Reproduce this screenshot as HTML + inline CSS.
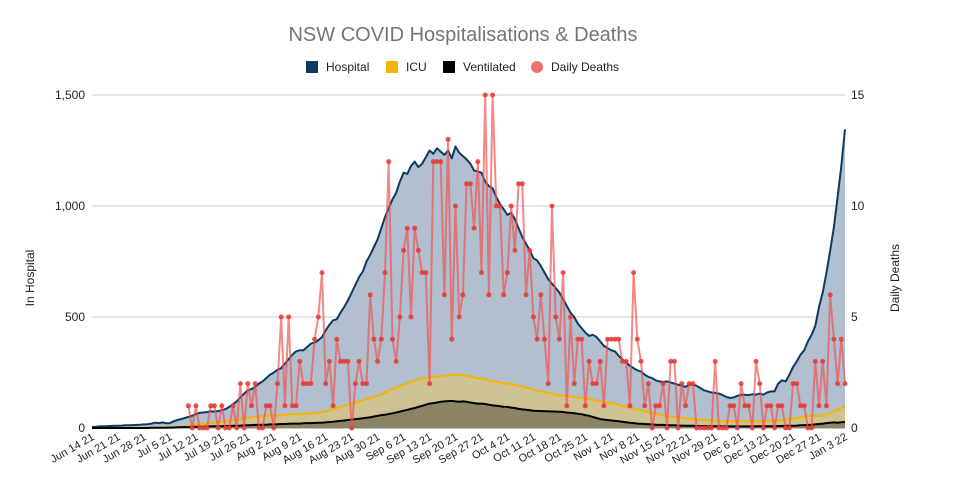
<!DOCTYPE html>
<html><head><meta charset="utf-8"><style>
body{margin:0;background:#fff;font-family:"Liberation Sans",sans-serif}
svg text{font-family:"Liberation Sans",sans-serif}
</style></head><body>
<svg id="c" width="973" height="480" xmlns="http://www.w3.org/2000/svg">
<text x="463" y="41" text-anchor="middle" font-size="20" fill="#757575">NSW COVID Hospitalisations &amp; Deaths</text>
<g font-size="12" fill="#222">
<g><rect x="306" y="61" width="12" height="12" fill="#0b3a62"/><text x="326" y="71">Hospital</text></g>
<g><rect x="386" y="61" width="12" height="12" fill="#f4b400"/><text x="406" y="71">ICU</text></g>
<g><rect x="443" y="61" width="12" height="12" fill="#000"/><text x="463" y="71">Ventilated</text></g>
<g><circle cx="537" cy="67" r="6" fill="#f07070"/><text x="551" y="71">Daily Deaths</text></g>
</g>
<text transform="translate(34,278) rotate(-90)" text-anchor="middle" font-size="12" fill="#222">In Hospital</text>
<text transform="translate(899,278) rotate(-90)" text-anchor="middle" font-size="12" fill="#222">Daily Deaths</text>
<g id="grid"></g><g id="areas"></g><g id="deaths"></g><g id="axes"></g>
</svg>
<script>
const hospital=[5,6,7,8,8,9,10,10,11,12,12,13,14,15,16,17,20,24,22,25,21,22,30,36,40,45,50,55,63,68,70,72,75,74,76,80,85,95,107,120,138,155,170,175,185,200,210,225,240,250,262,270,290,310,330,345,350,350,365,380,385,395,410,440,465,485,490,520,545,575,610,645,680,705,750,780,815,850,900,950,990,1030,1060,1110,1150,1145,1180,1200,1175,1190,1220,1250,1235,1260,1245,1230,1250,1215,1268,1240,1225,1210,1190,1160,1155,1150,1110,1090,1080,1040,1010,985,960,970,940,900,860,830,800,765,755,730,700,670,650,630,610,580,550,520,500,470,450,430,415,420,410,390,370,360,350,345,325,310,295,280,270,260,255,240,230,225,215,210,207,210,205,200,195,190,185,195,195,190,180,170,165,160,158,155,148,140,135,138,145,150,150,148,152,150,155,150,160,165,165,200,215,210,240,275,300,330,350,390,420,460,545,610,700,800,905,1040,1180,1345];
const icu=[0,0,0,0,0,0,0,0,0,0,0,0,0,0,1,1,1,2,2,2,3,3,4,5,6,8,10,12,14,16,18,20,22,25,27,28,30,32,35,38,40,42,45,48,50,52,54,55,55,55,56,58,60,62,62,63,63,64,65,66,68,70,72,75,80,85,90,95,100,105,110,115,120,125,130,135,140,145,150,160,168,175,182,190,196,202,208,214,218,222,226,228,230,232,234,236,238,240,242,240,238,235,232,228,225,222,218,214,210,208,205,202,200,198,194,190,186,182,178,174,170,166,162,158,154,150,148,146,144,142,140,138,136,133,130,127,124,121,118,115,112,108,104,100,96,92,88,84,80,76,72,68,64,60,57,54,52,50,48,46,44,42,40,38,37,36,35,34,33,32,31,30,30,30,30,30,30,30,30,30,31,31,32,32,33,34,36,38,40,42,45,48,50,55,55,55,56,58,62,68,75,82,90,100];
const ventilated=[0,0,0,0,0,0,0,0,0,0,0,0,0,0,0,0,1,1,1,1,1,2,2,3,3,4,4,5,5,6,6,7,7,8,8,8,9,9,10,10,11,12,12,13,14,14,15,15,16,16,17,18,18,19,20,20,20,21,22,22,23,24,24,25,27,28,30,32,34,36,38,40,42,44,46,48,52,55,58,60,63,66,70,74,78,82,86,90,95,100,105,110,112,115,118,120,121,122,120,118,120,118,115,112,110,110,108,105,102,100,98,96,95,92,90,86,84,82,80,78,77,76,76,75,75,74,73,72,70,68,66,64,62,58,55,50,45,40,38,36,34,32,30,28,26,24,22,20,19,18,17,16,15,14,14,13,12,12,11,11,10,10,10,9,9,9,8,8,8,8,8,7,7,7,7,7,7,7,7,8,8,8,8,8,8,9,9,10,10,10,11,12,13,14,15,16,18,20,22,24,25,24,26,27];
const deathsEarly=[1,0,1,0,0,0,1,1,0,1,0,0,1,0,2,0,2,1,2,0,0,1,1,0,2,5,1,5,1,1,3,2,2,2,4,5,7,2,3,1,4,3,3,3,0,2,3,2,2,6,4,3,4,7,12];
const deathsMid=[4,3,5,8,9,5,9,8,7,7,2,12,12,12,6,13,4,10,5,6,11,11,9,12,7,15,6,15,10,10,6,7,10,8,11,11,6,8,5,4,6,4,2,10,5,4,7,1,5,2,4,4,1,3,2,2,3,1,4,4,4,4];
const deathsLate=[3,3,1,7,4,3,1,2,0,1,1,2,0,3,3,0,2,1,2,2,0,0,0,0,0,3,0,0,0,1,1,0,2,1,1,0,3,2,0,1,1,0,1,1,0,0,2,2,1,1,0,0,3,1,3,1,6,4,2,4,2];
const deathsStart=26;
const xLabels=["Jun 14 21","Jun 21 21","Jun 28 21","Jul 5 21","Jul 12 21","Jul 19 21","Jul 26 21","Aug 2 21","Aug 9 21","Aug 16 21","Aug 23 21","Aug 30 21","Sep 6 21","Sep 13 21","Sep 20 21","Sep 27 21","Oct 4 21","Oct 11 21","Oct 18 21","Oct 25 21","Nov 1 21","Nov 8 21","Nov 15 21","Nov 22 21","Nov 29 21","Dec 6 21","Dec 13 21","Dec 20 21","Dec 27 21","Jan 3 22"];
const yTicksLeft=[0,500,1000,1500];
const yTicksRight=[0,5,10,15];
const deaths=[...deathsEarly,...deathsMid,...deathsLate];
const NS="http://www.w3.org/2000/svg";
const X0=92,X1=845,Y0=428,Y1=95,N=hospital.length;
const xs=i=>X0+(X1-X0)*i/(N-1);
const yL=v=>Y0-(Y0-Y1)*v/1500;
const yR=v=>Y0-(Y0-Y1)*v/15;
function mk(tag,parent,attrs){const e=document.createElementNS(NS,tag);for(const k in attrs)e.setAttribute(k,attrs[k]);document.getElementById(parent).appendChild(e);return e;}
yTicksLeft.forEach((t,k)=>{
  const g=mk('line','grid',{x1:X0,x2:X1,y1:yL(t),y2:yL(t),stroke:t===0?'#888':'#ccc','stroke-width':1});
  
  
  const tl=mk('text','axes',{x:85,y:yL(t)+4,'text-anchor':'end','font-size':12,fill:'#222'});
  tl.textContent=t.toLocaleString('en-US');
  
  
  const tr=mk('text','axes',{x:851,y:yR(yTicksRight[k])+4,'font-size':12,fill:'#222'});
  tr.textContent=yTicksRight[k];
  
  
});
function area(arr,fill,stroke,name,sw){
  let d='M'+xs(0)+','+Y0;
  arr.forEach((v,i)=>d+=' L'+xs(i).toFixed(1)+','+yL(v).toFixed(1));
  d+=' L'+xs(N-1)+','+Y0+' Z';
  const a=mk('path','areas',{d:d,fill:fill});
  
  
  let l='';arr.forEach((v,i)=>l+=(i?' L':'M')+xs(i).toFixed(1)+','+yL(v).toFixed(1));
  const p=mk('path','areas',{d:l,fill:'none',stroke:stroke,'stroke-width':sw,'stroke-linejoin':'round'});
  
  
}
area(hospital,'#b1bfcf','#0b3a62','hospital',2);
area(icu,'#cfc293','#f4b400','icu',2);
area(ventilated,'#8c8464','#000','ventilated',2);
let dl='';deaths.forEach((v,k)=>{const i=deathsStart+k;dl+=(k?' L':'M')+xs(i).toFixed(1)+','+yR(v).toFixed(1);});
const dp=mk('path','deaths',{d:dl,fill:'none',stroke:'#ee5555','stroke-width':2,'stroke-opacity':0.7,'stroke-linejoin':'round'});


deaths.forEach((v,k)=>{const i=deathsStart+k;
  const c=mk('circle','deaths',{cx:xs(i).toFixed(1),cy:yR(v).toFixed(1),r:2.5,fill:'#e53935','fill-opacity':0.85});
  
  
});
xLabels.forEach((t,k)=>{const x=xs(k*7);
  const tx=mk('text','axes',{transform:'translate('+(x+3)+',439) rotate(-30)','text-anchor':'end','font-size':11,fill:'#222'});
  tx.textContent=t;
  
  
});
</script>
</body></html>
